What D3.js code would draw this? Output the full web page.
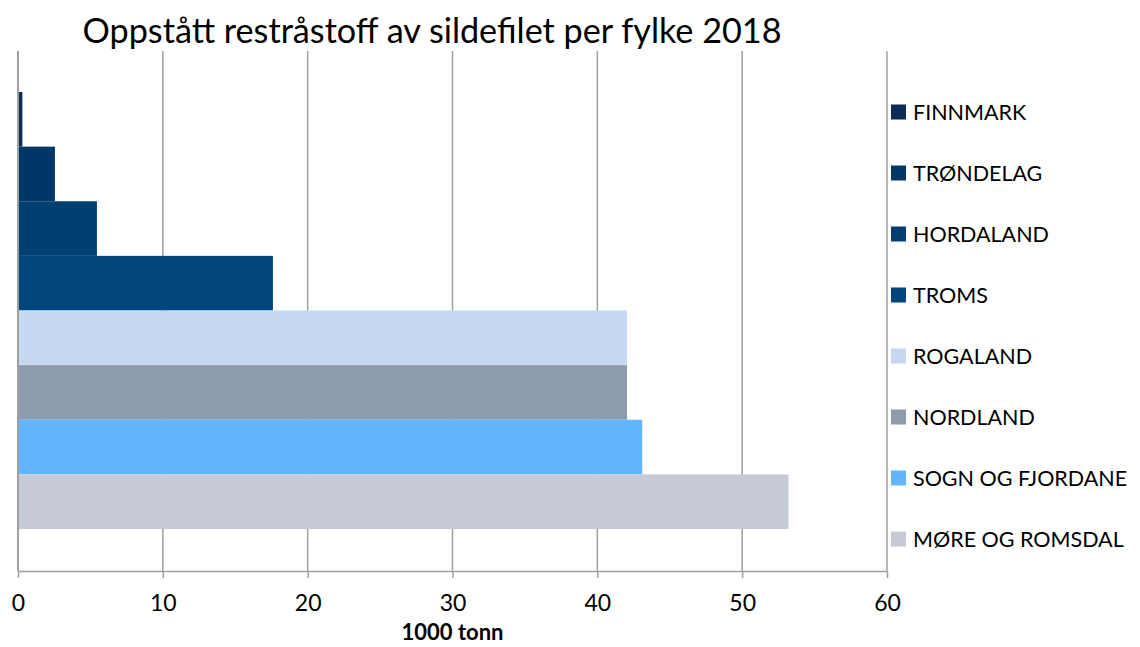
<!DOCTYPE html>
<html>
<head>
<meta charset="utf-8">
<script src="https://cdn.jsdelivr.net/npm/d3@7"></script>
<style>
  body { margin: 0; background: #fff; }
  text { font-family: Lato, "Open Sans", sans-serif; fill: #000; }
</style>
</head>
<body>
<div id="chart"></div>
<script>
// fylker, top to bottom as drawn
const counties = ['FINNMARK', 'TRØNDELAG', 'HORDALAND', 'TROMS', 'ROGALAND', 'NORDLAND', 'SOGN OG FJORDANE', 'MØRE OG ROMSDAL'];
// 1000 tonn
const values = [0.3, 2.55, 5.45, 17.6, 42.05, 42.05, 43.1, 53.2];
const colors = ['#0b2c55', '#003766', '#003f72', '#00457c', '#c6d9f1', '#8e9aae', '#63b6fe', '#c6cad6'];
const xTicks = [0, 10, 20, 30, 40, 50, 60];

const W = 1140, H = 647;
const plot = { left: 18, right: 887, top: 51, bottom: 571 };

const svg = d3.select('#chart').append('svg')
  .attr('width', W).attr('height', H);

const x = d3.scaleLinear().domain([0, 60]).range([plot.left, plot.right]);
const y = d3.scaleBand().domain(counties)
  .range([plot.top + 41, plot.bottom - 42]).paddingInner(0);
const color = d3.scaleOrdinal().domain(counties).range(colors);

// title
svg.append('text')
  .attr('x', 432).attr('y', 43)
  .attr('text-anchor', 'middle')
  .attr('font-size', 34)
  .attr('textLength', 699)
  .attr('lengthAdjust', 'spacingAndGlyphs')
  .text('Oppstått restråstoff av sildefilet per fylke 2018');

// gridlines
svg.append('g')
  .selectAll('line')
  .data(xTicks)
  .join('line')
  .attr('x1', d => x(d)).attr('x2', d => x(d))
  .attr('y1', plot.top).attr('y2', plot.bottom)
  .attr('stroke', '#a0a0a0')
  .attr('stroke-width', 1.5);

// bars
svg.append('g')
  .selectAll('rect')
  .data(counties)
  .join('rect')
  .attr('x', x(0))
  .attr('y', d => y(d))
  .attr('width', (d, i) => x(values[i]) - x(0))
  .attr('height', y.bandwidth())
  .attr('fill', d => color(d));

// left axis line
svg.append('line')
  .attr('x1', x(0)).attr('x2', x(0))
  .attr('y1', plot.top).attr('y2', plot.bottom)
  .attr('stroke', '#a0a0a0').attr('stroke-width', 2);

// x axis
const xAxis = svg.append('g')
  .attr('transform', `translate(0,${plot.bottom})`)
  .call(d3.axisBottom(x).tickValues(xTicks).tickSize(7).tickPadding(17).tickSizeOuter(0));
xAxis.select('.domain').attr('stroke', '#a0a0a0').attr('stroke-width', 1.5);
xAxis.selectAll('.tick line').attr('stroke', '#a0a0a0').attr('stroke-width', 1.5);
xAxis.selectAll('.tick text')
  .attr('font-size', 23)
  .attr('font-family', 'Lato, sans-serif')
  .attr('fill', '#000');

svg.append('text')
  .attr('x', x(30)).attr('y', 640)
  .attr('text-anchor', 'middle')
  .attr('font-size', 22)
  .attr('font-weight', 'bold')
  .text('1000 tonn');

// legend
const legend = svg.append('g')
  .selectAll('g')
  .data(counties)
  .join('g')
  .attr('transform', (d, i) => `translate(891,${112 + i * 61.0})`);
legend.append('rect')
  .attr('x', 0).attr('y', -7.5)
  .attr('width', 15).attr('height', 15)
  .attr('fill', d => color(d));
legend.append('text')
  .attr('x', 22).attr('y', 7.5)
  .attr('font-size', 21.5)
  .text(d => d);
</script>
</body>
</html>
